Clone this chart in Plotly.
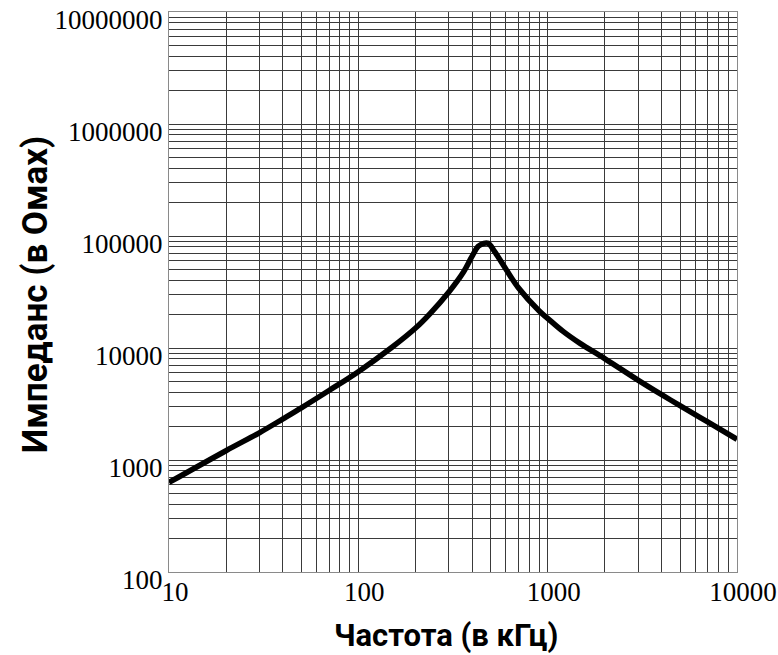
import plotly.graph_objects as go

# Frequency (kHz) and impedance (Ohm)
freq_khz = [10, 20, 30, 40, 50, 70, 100, 150, 200, 240, 300, 360, 397, 430,
            460, 485, 525, 600, 700, 900, 1000, 1211, 1483, 2000, 3000, 4000,
            5000, 7000, 10000]
impedance_ohm = [630, 1210, 1750, 2330, 2920, 4170, 6150, 10100, 15000, 20400,
                 31500, 48000, 65000, 81000, 86000, 86000, 72400, 51000, 34500,
                 21500, 18400, 14000, 11000, 8050, 5170, 3830, 3060, 2190, 1530]

x_tick_vals = [10, 100, 1000, 10000]
x_tick_text = ["10", "100", "1000", "10000"]
y_tick_vals = [100, 1000, 10000, 100000, 1000000, 10000000]
y_tick_text = ["100", "1000", "10000", "100000", "1000000", "10000000"]

x_title = "Частота (в кГц)"
y_title = "Импеданс (в Омах)"

fig = go.Figure()
fig.add_trace(go.Scatter(
    x=freq_khz, y=impedance_ohm, mode="lines",
    line=dict(color="black", width=5.5, shape="spline", smoothing=1.0),
    showlegend=False, hoverinfo="skip",
))

tick_font = dict(family="Liberation Serif", size=27, color="black")
grid_col = "#3a3a3a"

fig.update_xaxes(
    type="log", range=[1, 4], automargin=False,
    tickvals=x_tick_vals, ticktext=x_tick_text,
    tickfont=tick_font, ticks="", ticklen=0, ticklabelstandoff=-4,
    ticklabelshift=6, ticklabeloverflow="allow",
    showgrid=True, gridcolor=grid_col, gridwidth=1,
    minor=dict(dtick="D1", showgrid=True, gridcolor=grid_col, gridwidth=1, ticks=""),
    showline=True, linecolor="#8a8a8a", linewidth=1, mirror=True,
    zeroline=False,
)
fig.update_yaxes(
    type="log", range=[2, 7], automargin=False,
    tickvals=y_tick_vals, ticktext=y_tick_text,
    tickfont=tick_font, ticks="", ticklen=0, ticklabelstandoff=0,
    ticklabelshift=8, ticklabeloverflow="allow",
    showgrid=True, gridcolor=grid_col, gridwidth=1,
    minor=dict(dtick="D1", showgrid=True, gridcolor=grid_col, gridwidth=1, ticks=""),
    showline=True, linecolor="#8a8a8a", linewidth=1, mirror=True,
    zeroline=False,
)

fig.add_annotation(text="<b>" + x_title + "</b>", xref="paper", yref="paper",
                   x=0.488, y=-0.1125, xanchor="center", yanchor="middle",
                   showarrow=False,
                   font=dict(family="Roboto", size=31, color="black"))
fig.add_annotation(text="<b>" + y_title + "</b>", xref="paper", yref="paper",
                   x=-0.236, y=0.496, xanchor="center", yanchor="middle",
                   textangle=-90, showarrow=False,
                   font=dict(family="Roboto", size=35, color="black"))

fig.update_layout(
    width=778, height=655,
    margin=dict(l=169, r=41, t=12, b=83),
    plot_bgcolor="white", paper_bgcolor="white",
)

fig.write_html(
    "out.html",
    config={"displayModeBar": False},
    post_script="document.body.style.margin='0';document.body.style.overflow='hidden';",
)
